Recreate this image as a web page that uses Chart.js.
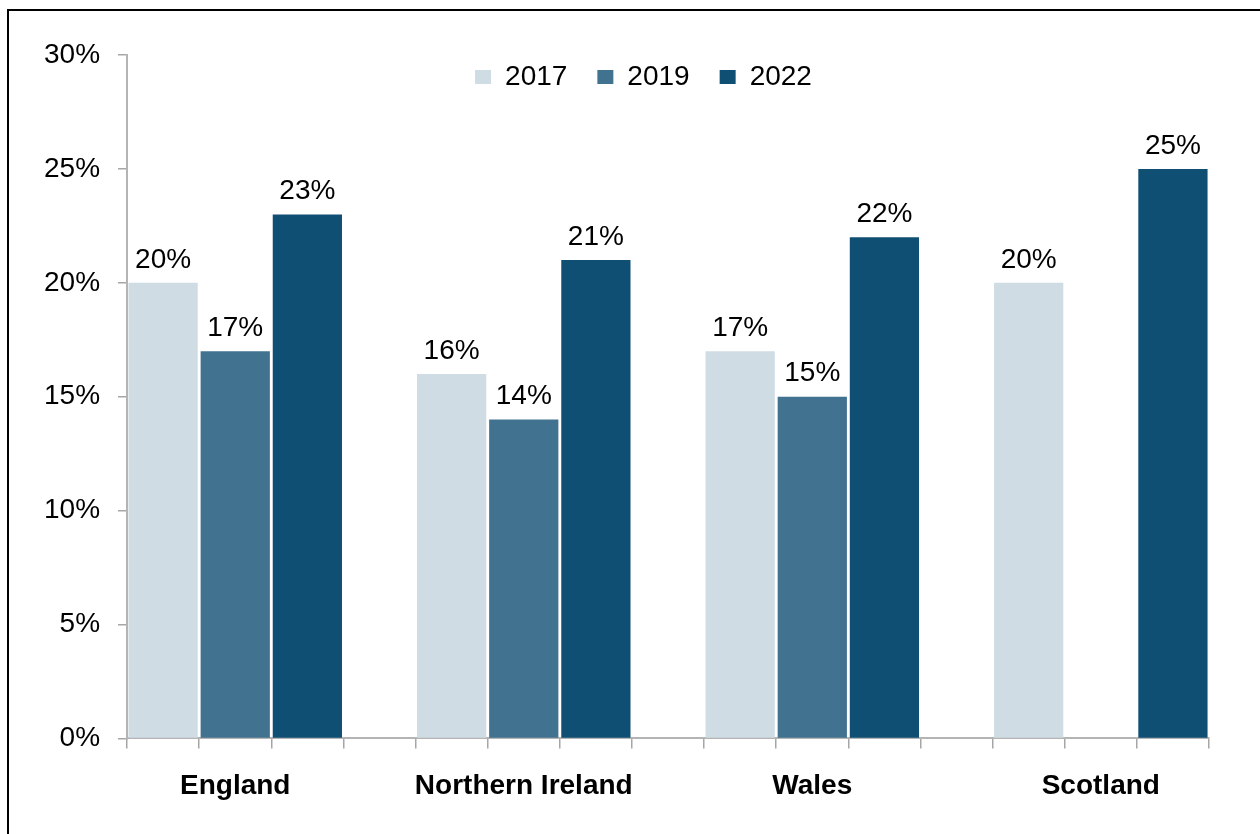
<!DOCTYPE html>
<html>
<head>
<meta charset="utf-8">
<script src="https://cdn.jsdelivr.net/npm/chart.js@4.4.1/dist/chart.umd.min.js"></script>
<style>
html, body { margin: 0; padding: 0; background: #fff; overflow: hidden; }
#wrap { position: absolute; left: 0; top: 0; width: 1260px; height: 834px; }
#frame { position: absolute; left: 7px; top: 9px; width: 1300px; height: 900px; border: 2px solid #000; pointer-events: none; }
</style>
</head>
<body>
<div id="wrap"><canvas id="nations" width="1260" height="834"></canvas></div>
<div id="frame"></div>
<script>
// values (percent)
const nations = ['England', 'Northern Ireland', 'Wales', 'Scotland'];
const years = ['2017', '2019', '2022'];
const share2017 = [20, 16, 17, 20];
const share2019 = [17, 14, 15, null];
const share2022 = [23, 21, 22, 25];
const yTicks = [0, 5, 10, 15, 20, 25, 30];
const colours = ['#cfdce4', '#417290', '#104f74'];

// each nation gets one slot per year, with an empty slot between nations
const perNation = years.length + 1;
const slotCount = nations.length * perNation - 1;
const slotLabels = [];
for (let i = 0; i < slotCount; i++) {
    const n = Math.floor(i / perNation);
    slotLabels.push(i % perNation === 1 ? nations[n] : '');
}
function toSlots(values, yearIdx) {
    const out = new Array(slotCount).fill(null);
    values.forEach((v, n) => { out[n * perNation + yearIdx] = v; });
    return out;
}

Chart.defaults.font.family = "'Liberation Sans', Arial, sans-serif";
Chart.defaults.color = '#000';

const valueLabels = {
    id: 'valueLabels',
    afterDatasetsDraw(chart) {
        const ctx = chart.ctx;
        ctx.save();
        ctx.font = "28px 'Liberation Sans', Arial, sans-serif";
        ctx.fillStyle = '#000';
        ctx.textAlign = 'center';
        ctx.textBaseline = 'bottom';
        chart.data.datasets.forEach((ds, i) => {
            chart.getDatasetMeta(i).data.forEach((bar, j) => {
                const v = ds.data[j];
                if (v === null) return;
                ctx.fillText(v + '%', bar.x, bar.y - 9);
            });
        });
        ctx.restore();
    }
};

// legend sits inside the plot, just under the top gridline
const legendInside = {
    id: 'legendInside',
    afterLayout(chart) {
        const l = chart.legend;
        const dy = (chart.chartArea.top - 22) - l.top;
        l.top += dy; l.bottom += dy;
        l.left += 26; l.right += 26;
    }
};

new Chart(document.getElementById('nations').getContext('2d'), {
    type: 'bar',
    data: {
        labels: slotLabels,
        datasets: years.map((y, k) => ({
            label: y,
            data: toSlots([share2017, share2019, share2022][k], k),
            backgroundColor: colours[k],
            grouped: false,
            barPercentage: 0.96,
            categoryPercentage: 1
        }))
    },
    options: {
        responsive: false,
        animation: false,
        layout: { padding: { left: 26, right: 51, top: -13, bottom: 10 } },
        plugins: {
            legend: {
                position: 'top',
                labels: { boxWidth: 16, boxHeight: 14, padding: 30, font: { size: 28 }, color: '#000' }
            },
            tooltip: { enabled: false }
        },
        scales: {
            x: {
                offset: true,
                grid: { offset: true, drawOnChartArea: false, drawTicks: true, tickLength: 10, color: '#a6a6a6', lineWidth: 1.5 },
                border: { color: '#b4b4b4', width: 2 },
                ticks: { autoSkip: false, maxRotation: 0, minRotation: 0, padding: 21, font: { size: 28, weight: 'bold' }, color: '#000' }
            },
            y: {
                min: yTicks[0],
                max: yTicks[yTicks.length - 1],
                afterBuildTicks: s => { s.ticks = yTicks.map(v => ({ value: v })); },
                grid: { drawOnChartArea: false, drawTicks: true, tickLength: 9, color: '#a6a6a6', lineWidth: 1.5 },
                border: { color: '#b4b4b4', width: 2 },
                ticks: { padding: 18, font: { size: 28 }, color: '#000', callback: v => v + '%' }
            }
        }
    },
    plugins: [valueLabels, legendInside]
});
</script>
</body>
</html>
